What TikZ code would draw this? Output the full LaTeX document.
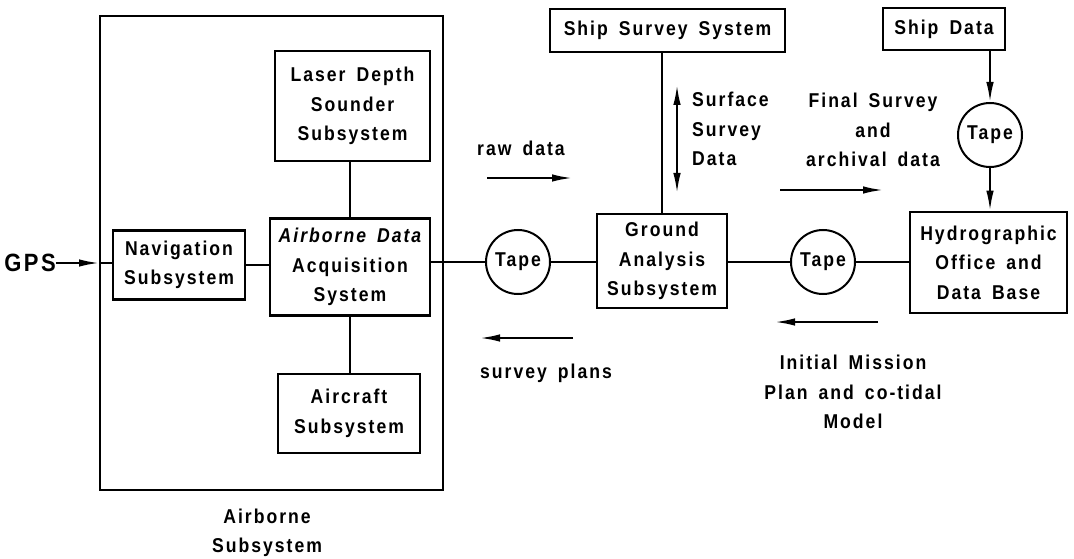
\documentclass[tikz,border=0pt]{standalone}
\usepackage{fontspec}
\newfontfamily\lbl{Liberation Sans}[FakeStretch=0.88,LetterSpace=10,WordSpace=1.6]
\usetikzlibrary{arrows.meta}
\begin{document}
\begin{tikzpicture}[x=1pt,y=-1pt,
  txt/.style={font=\lbl\bfseries\fontsize{20}{29.5}\selectfont, align=center, inner sep=0pt},
  blk/.style={txt, draw, line width=2.6pt, rectangle},
  tape/.style={txt, draw, line width=2pt, circle, minimum size=64pt},
  wire/.style={line width=2pt},
  flow/.style={line width=2pt, -{Latex[length=20pt,width=7.5pt]}},
  both/.style={line width=2pt, {Latex[length=20pt,width=7.5pt]}-{Latex[length=20pt,width=7.5pt]}}]
\useasboundingbox (0,0) rectangle (1074,559);

% airborne subsystem enclosure
\node[draw, line width=2pt, minimum width=343pt, minimum height=474pt, inner sep=0pt] (air) at (271.5,253) {};
\node[txt] (airlbl) at (267,533) {Airborne\\Subsystem};

% airborne blocks
\node[blk, minimum width=155pt, minimum height=110pt] (laser) at (352.5,106) {Laser Depth\\Sounder\\Subsystem};
\node[blk, minimum width=160pt, minimum height=97pt] (ada) at (350,267) {\itshape Airborne Data\\Acquisition\\System};
\node[blk, minimum width=132pt, minimum height=69pt] (nav) at (179,265) {Navigation\\Subsystem};
\node[blk, minimum width=142pt, minimum height=79pt] (craft) at (349,413.5) {Aircraft\\Subsystem};
\node[font=\lbl\bfseries\fontsize{25}{28}\selectfont, inner sep=0pt] (gps) at (30,263) {GPS};

% ground side blocks
\node[tape] (tape1) at (518,262) {Tape};
\node[blk, minimum width=130pt, minimum height=94pt] (ground) at (662,261) {Ground\\Analysis\\Subsystem};
\node[blk, minimum width=235pt, minimum height=43pt] (survey) at (667.5,30.5) {Ship Survey System};
\node[tape] (tape2) at (823,262) {Tape};
\node[blk, minimum width=157pt, minimum height=101pt] (hydro) at (988.5,262.5) {Hydrographic\\Office and\\Data Base};
\node[blk, minimum width=122pt, minimum height=42pt] (shipdata) at (944,29) {Ship Data};
\node[tape] (tape3) at (990,135) {Tape};

% connections
\coordinate (gpsin) at (air.west |- gps);
\draw[flow] (gps.east) -- (gpsin);
\draw[wire] (gpsin) -- (nav.west |- gps);
\draw[wire] (nav.east) -- (ada.west |- nav.east);
\draw[wire] (laser.south -| ada.north) -- (ada.north);
\draw[wire] (ada.south) -- (craft.north -| ada.south);
\draw[wire] (ada.east |- tape1) -- (tape1.west);
\draw[wire] (tape1.east) -- (ground.west |- tape1);
\draw[wire] (ground.north) -- (ground.north |- survey.south);
\draw[wire] (ground.east |- tape2) -- (tape2.west);
\draw[wire] (tape2.east) -- (hydro.west |- tape2);
\draw[flow] (tape3.north |- shipdata.south) -- (tape3.north);
\draw[flow] (tape3.south) -- (hydro.north -| tape3.south);

% data flow annotations
\node[txt] (rawlbl) at (521,148) {raw data};
\coordinate (raw0) at (487,178);
\coordinate (raw1) at (572,178);
\draw[flow] (raw0) -- (raw1);

\coordinate (plan0) at (573,338);
\coordinate (plan1) at (480,338);
\draw[flow] (plan0) -- (plan1);
\node[txt, anchor=west] (planlbl) at (480,373) {survey plans};

\coordinate (surf0) at (677,85);
\coordinate (surf1) at (677,193);
\draw[both] (surf0) -- (surf1);
\node[txt, anchor=west, align=left] (surflbl) at (692,129) {Surface\\Survey\\Data};

\node[txt] (finlbl) at (873,130) {Final Survey\\and\\archival data};
\coordinate (fin0) at (780,190);
\coordinate (fin1) at (883,190);
\draw[flow] (fin0) -- (fin1);

\coordinate (init0) at (878,322);
\coordinate (init1) at (775,322);
\draw[flow] (init0) -- (init1);
\node[txt] (initlbl) at (853,392) {Initial Mission\\Plan and co-tidal\\Model};
\end{tikzpicture}
\end{document}
